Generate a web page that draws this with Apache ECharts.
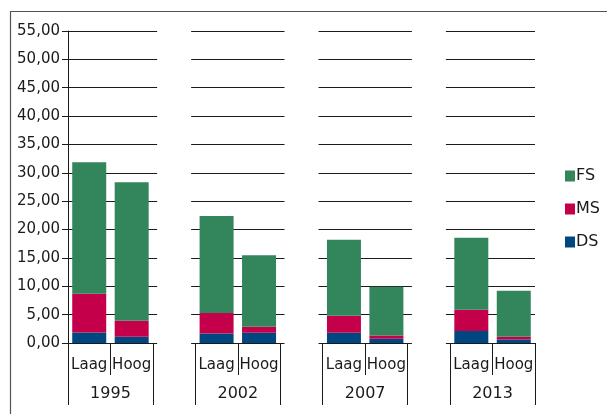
<!DOCTYPE html>
<html>
<head>
<meta charset="utf-8">
<script src="https://cdn.jsdelivr.net/npm/echarts@6/dist/echarts.min.js"></script>
<style>
html,body{margin:0;padding:0;background:#fff;}
#chart{width:607px;height:414px;}
</style>
</head>
<body>
<div id="chart"></div>
<script>
// Sub-categories (blank entries are the gaps between year groups)
var categories = ['Laag','Hoog','','Laag','Hoog','','Laag','Hoog','','Laag','Hoog'];
// Year labels sit on category boundaries 0..11
var yearLabels = ['','1995','','','2002','','','2007','','','2013',''];
var yTicks = [0,5,10,15,20,25,30,35,40,45,50,55];

var DS = [1.87, 1.11, null, 1.69, 1.81, null, 1.81, 0.76, null, 2.11, 0.63];
var MS = [6.81, 2.82, null, 3.59, 1.06, null, 3.00, 0.58, null, 3.76, 0.48];
var FS = [23.2, 24.4, null, 17.1, 12.6, null, 13.4, 8.58, null, 12.7, 8.10];

var seriesNames = ['DS','MS','FS'];
var seriesColors = ['#00467f','#c4004b','#33865c'];

var maskTop = categories.map(function(c){ return c === '' ? 56.5 : null; });
var maskBottom = categories.map(function(c){ return c === '' ? -1.2 : null; });

var shortTickIdx = [1,4,7,10];
var longTickIdx = [0,2,3,5,6,8,9,11];

var chart = echarts.init(document.getElementById('chart'), null, {renderer:'canvas'});
var FONT = 'DejaVu Sans';
var dataSeries = [DS, MS, FS].map(function(arr, i){
  return {
    name: seriesNames[i], type:'bar', stack:'total', data: arr,
    barWidth: 34, itemStyle:{color: seriesColors[i]}, z: 2
  };
});
var maskStyle = {color:'#ffffff'};
var option = {
  animation:false,
  backgroundColor:'#ffffff',
  textStyle:{fontFamily:FONT},
  grid:{left:68, right:72, top:31, bottom:71, containLabel:false},
  legend:{
    orient:'vertical', left:560, top:163, itemWidth:10, itemHeight:11, itemGap:17,
    icon:'rect', selectedMode:false,
    data:['FS','MS','DS'],
    textStyle:{fontFamily:FONT, fontSize:16, color:'#1a1a1a', lineHeight:16, padding:[0,0,0,-4]}
  },
  xAxis:[{
    type:'category', data:categories, boundaryGap:true, position:'bottom',
    axisLine:{show:true, lineStyle:{color:'#1a1a1a', width:1}},
    axisTick:{show:true, length:32, lineStyle:{color:'#1a1a1a', width:1},
      interval:function(idx){ return shortTickIdx.indexOf(idx) >= 0; }},
    axisLabel:{interval:0, margin:15, fontSize:15, color:'#1a1a1a', fontFamily:FONT},
    splitLine:{show:false}
  },{
    type:'category', data:yearLabels, boundaryGap:false, position:'bottom',
    axisLine:{show:false},
    axisTick:{show:true, length:62, lineStyle:{color:'#1a1a1a', width:1},
      interval:function(idx){ return longTickIdx.indexOf(idx) >= 0; }},
    axisLabel:{interval:0, margin:43, fontSize:16, color:'#1a1a1a', fontFamily:FONT},
    splitLine:{show:false}
  }],
  yAxis:{
    type:'value', min:yTicks[0], max:yTicks[yTicks.length-1], interval:5,
    axisLine:{show:true, lineStyle:{color:'#1a1a1a', width:1}},
    axisTick:{show:true, length:6, lineStyle:{color:'#1a1a1a'}},
    axisLabel:{margin:8, fontSize:15, color:'#1a1a1a', fontFamily:FONT,
      formatter:function(v){ return v.toFixed(2).replace('.', ','); }},
    splitLine:{show:true, lineStyle:{color:'#1a1a1a', width:1}}
  },
  series: dataSeries.concat([
    {name:'maskTop', type:'bar', stack:'total', data:maskTop, barWidth:34, clip:false,
      itemStyle:maskStyle, silent:true, z:3},
    {name:'maskBottom', type:'bar', stack:'total', data:maskBottom, barWidth:34, clip:false,
      itemStyle:maskStyle, silent:true, z:3}
  ]),
  graphic:[{
    type:'polyline', silent:true, z:100,
    shape:{points:[[10.5,414],[10.5,11.5],[607,11.5]]},
    style:{stroke:'#555', lineWidth:1.2, fill:null}
  }]
};
chart.setOption(option);
</script>
</body>
</html>
